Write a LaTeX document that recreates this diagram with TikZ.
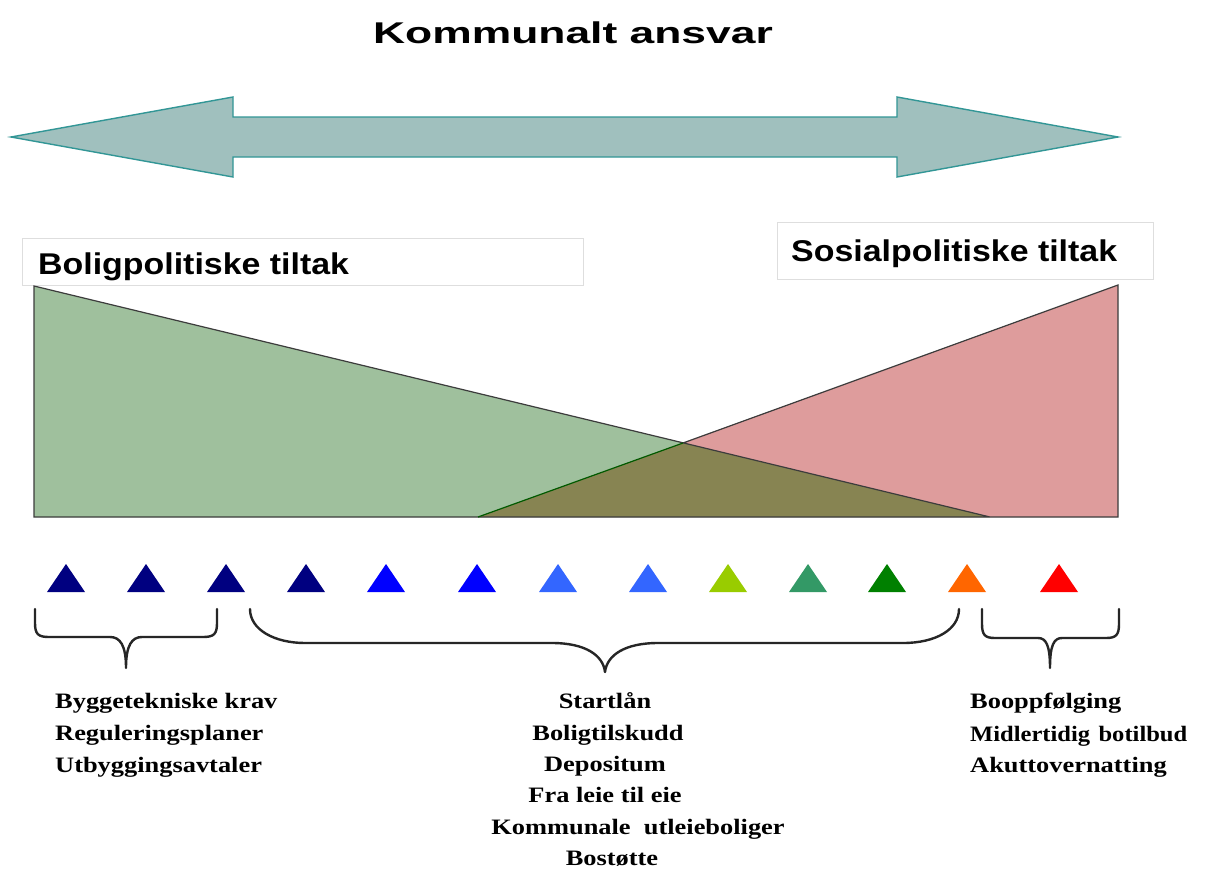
\documentclass[tikz,border=0pt]{standalone}
\usepackage{fontspec}
\setmainfont{Liberation Serif}
\newfontfamily\hfont[FakeStretch=1.13]{Liberation Sans}
\newfontfamily\tfont[FakeStretch=1.48]{Liberation Sans}
\newfontfamily\lfont[FakeStretch=1.2]{Liberation Serif}
\definecolor{arrowfill}{RGB}{160,192,190}
\definecolor{arrowline}{RGB}{50,150,150}
\definecolor{greenfill}{RGB}{159,192,157}
\definecolor{pinkfill}{RGB}{222,156,156}
\definecolor{olivefill}{RGB}{135,132,82}
\definecolor{edgegray}{RGB}{60,60,60}
\definecolor{boxgray}{RGB}{222,222,222}
\definecolor{tnavy}{RGB}{0,0,128}
\definecolor{tblue}{RGB}{0,0,255}
\definecolor{tlblue}{RGB}{51,102,255}
\definecolor{tlime}{RGB}{153,204,0}
\definecolor{tsea}{RGB}{51,153,102}
\definecolor{tgreen}{RGB}{0,128,0}
\definecolor{torange}{RGB}{255,102,0}
\definecolor{tred}{RGB}{255,0,0}
\tikzset{
  bigarrow/.style={fill=arrowfill, draw=arrowline, line width=1.4pt, line join=miter},
  labelbox/.style={draw=boxgray, fill=white, line width=1pt},
  headtext/.style={font=\hfont\bfseries\fontsize{30}{36}\selectfont, inner sep=0pt, anchor=base west},
  itemtext/.style={font=\lfont\bfseries\fontsize{22}{26}\selectfont, inner sep=0pt},
  bracestyle/.style={draw=black!85, line width=2.4pt, line cap=round, line join=round}
}
\begin{document}
\begin{tikzpicture}[x=1pt,y=-1pt]
\useasboundingbox (0,0) rectangle (1205,871);
\fill[white] (0,0) rectangle (1205,871);

% title
\node[font=\tfont\bfseries\fontsize{30}{36}\selectfont, inner sep=0pt] (title) at (573,33) {Kommunalt ansvar};

% double arrow
\draw[bigarrow] (11,137) -- (233,97) -- (233,117) -- (897,117) -- (897,97) -- (1118,137)
  -- (897,177) -- (897,157) -- (233,157) -- (233,177) -- cycle;

% label boxes
\draw[labelbox] (22,238) rectangle (583,285);
\node[headtext] (bolig) at (38,274) {Boligpolitiske tiltak};
\draw[labelbox] (777,222) rectangle (1153,279);
\node[headtext] (sosial) at (791,261) {Sosialpolitiske tiltak};

% wedges
\fill[greenfill] (34,286) -- (990,517) -- (34,517) -- cycle;
\fill[pinkfill] (1118,285) -- (1118,517) -- (478,517) -- cycle;
\fill[olivefill] (478,517) -- (683,443) -- (990,517) -- cycle;
\draw[edgegray, line width=1.2pt, line join=miter] (990,517) -- (34,286) -- (34,517) -- (1118,517) -- (1118,285) -- (683,443);
\draw[tgreen!70!black, line width=1.2pt] (478,517) -- (683,443);

% small triangles
\foreach \x/\c in {66/tnavy,146/tnavy,226/tnavy,306/tnavy,386/tblue,477/tblue,558/tlblue,648/tlblue,728/tlime,808/tsea,887/tgreen,967/torange,1059/tred}{
  \fill[\c] (\x-19,592) -- (\x,564) -- (\x+19,592) -- cycle;
}

% braces
\draw[bracestyle] (35,609) -- (35,623) .. controls (35,634) and (38,637) .. (49,637) -- (110,637)
  .. controls (120,637) and (126,645) .. (126,668)
  .. controls (126,645) and (132,637) .. (142,637) -- (203,637)
  .. controls (214,637) and (217,634) .. (217,623) -- (217,609);
\draw[bracestyle] (250,609) .. controls (250,630) and (275,643) .. (305,643) -- (552,643)
  .. controls (585,643) and (603,655) .. (605,672)
  .. controls (607,655) and (625,643) .. (658,643) -- (903,643)
  .. controls (935,643) and (959,630) .. (959,609);
\draw[bracestyle] (982,609) -- (982,624) .. controls (982,635) and (985,638) .. (995,638) -- (1038,638)
  .. controls (1046,638) and (1050,645) .. (1050,668)
  .. controls (1050,645) and (1054,638) .. (1062,638) -- (1106,638)
  .. controls (1116,638) and (1119,635) .. (1119,624) -- (1119,609);

% left items
\node[itemtext, anchor=base west] (l1) at (55,708) {Byggetekniske krav};
\node[itemtext, anchor=base west] (l2) at (55,740) {Reguleringsplaner};
\node[itemtext, anchor=base west] (l3) at (55,772) {Utbyggingsavtaler};

% middle items
\node[itemtext, anchor=base] (m1) at (605,708) {Startlån};
\node[itemtext, anchor=base] (m2) at (608,740) {Boligtilskudd};
\node[itemtext, anchor=base] (m3) at (605,771) {Depositum};
\node[itemtext, anchor=base] (m4) at (605,802) {Fra\ leie til eie};
\node[itemtext, anchor=base] (m5) at (638,834) {Kommunale\ \ utleieboliger};
\node[itemtext, anchor=base] (m6) at (612,865) {Bostøtte};

% right items
\node[itemtext, anchor=base west] (r1) at (970,708) {Booppfølging};
\node[itemtext, anchor=base west] (r2) at (970,741) {\scalebox{0.93}[1]{Midlertidig\hspace{9pt}botilbud}};
\node[itemtext, anchor=base west] (r3) at (970,772) {Akuttovernatting};
\end{tikzpicture}
\end{document}
